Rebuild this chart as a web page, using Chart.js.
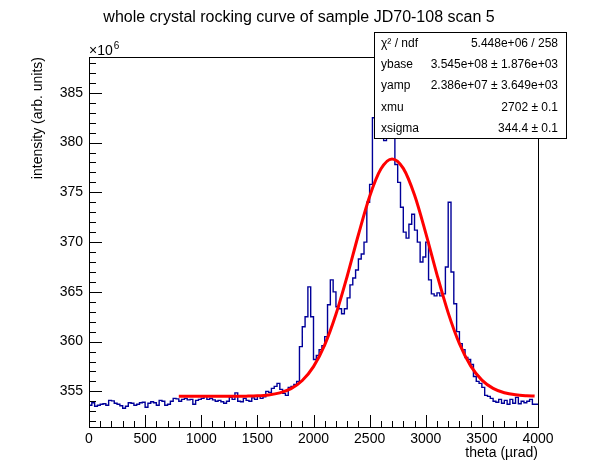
<!DOCTYPE html>
<html><head><meta charset="utf-8">
<script src="https://cdn.jsdelivr.net/npm/chart.js@4.4.1/dist/chart.umd.min.js"></script>
<style>html,body{margin:0;padding:0;background:#fff;}#wrap{width:598px;height:474px;}</style>
</head><body><div id="wrap"><canvas id="c" width="598" height="474"></canvas></div>
<script>
const titleText = 'whole crystal rocking curve of sample JD70-108 scan 5';
const xTitle = 'theta (\u00b5rad)';
const yTitle = 'intensity (arb. units)';
const yExpBase = '\u00d710';
const yExpPow = '6';

const binStart = 0;
const binWidth = 25;
const counts = [
  353.3, 353.6, 353.85, 353.5, 353.6, 353.7, 353.75, 353.6, 354.1, 354.05,
  353.8, 353.7, 353.55, 353.3, 353.5, 353.85, 353.8, 353.6, 353.7, 353.85,
  353.9, 353.4, 353.8, 353.95, 353.85, 353.6, 354.1, 354.0, 353.6, 353.7,
  354.0, 354.3, 354.25, 354.0, 354.2, 354.3, 354.15, 354.2, 353.7, 354.1,
  354.2, 354.3, 354.5, 354.2, 354.3, 354.15, 354.0, 354.1, 353.95, 353.8,
  354.0, 354.4, 354.2, 354.85, 354.0, 353.95, 354.3, 354.1, 354.0, 354.35,
  354.2, 354.5, 354.3, 354.45, 355.0, 354.9, 355.3, 355.5, 355.8, 355.2,
  354.8, 354.6, 355.4, 355.5, 355.7, 356.0, 359.5, 361.5, 362.5, 365.5,
  362.5, 358.2, 358.6, 359.2, 359.6, 360.5, 363.7, 366.2, 365.0, 363.5,
  363.3, 362.8, 363.3, 364.4, 365.7, 366.4, 367.2, 368.3, 368.8, 370.0,
  374.0, 375.8, 382.5, 383.5, 384.0, 383.0, 380.2, 382.0, 383.0, 381.5,
  377.8, 376.0, 373.5, 371.0, 370.4, 371.8, 372.8, 371.2, 370.0, 368.0,
  368.5, 370.0, 366.2, 364.8, 364.6, 364.9, 364.6, 364.8, 367.5, 374.0,
  367.0, 363.8, 361.0, 359.8, 359.2, 358.4, 358.2, 357.7, 356.5, 356.0,
  355.8, 355.4, 354.6, 354.5, 354.3, 354.0, 353.9, 354.2, 353.8, 354.1,
  353.7, 354.2, 353.8, 354.4, 353.75, 354.0, 353.85, 354.0, 354.2, 353.7
];

const fitX = [800, 1000, 1200, 1400, 1500, 1600, 1700, 1800, 1900, 2000, 2100, 2200, 2300, 2400, 2500,
  2600, 2700, 2800, 2900, 3000, 3100, 3200, 3300, 3400, 3500, 3600, 3700, 3800, 3900, 3970];
const fitY = [354.50, 354.50, 354.50, 354.52, 354.55, 354.64, 354.85, 355.27, 356.09, 357.49, 359.68, 362.75, 366.57, 370.74, 374.59,
  377.34, 378.36, 377.41, 374.73, 370.91, 366.74, 362.89, 359.79, 357.56, 356.13, 355.30, 354.86, 354.65, 354.56, 354.53];

const xTickLabels = [0, 500, 1000, 1500, 2000, 2500, 3000, 3500, 4000];
const yTickLabels = [355, 360, 365, 370, 375, 380, 385];
const xMinorStep = 100;
const yMinorStep = 1;
const xRange = [0, 4000];
const yRange = [351.42, 388.6];

const statsLabels = ['\u03c7\u00b2 / ndf', 'ybase', 'yamp', 'xmu', 'xsigma'];
const statsValues = ['5.448e+06 / 258', '3.545e+08 \u00b1 1.876e+03', '2.386e+07 \u00b1 3.649e+03', '2702 \u00b1 0.1', '344.4 \u00b1 0.1'];

const FONT = "'Liberation Sans', Arial, Helvetica, sans-serif";

const histPoints = counts.map((v, i) => ({x: binStart + i * binWidth, y: v}));
histPoints.push({x: binStart + counts.length * binWidth, y: counts[counts.length - 1]});
const fitPoints = fitX.map((x, i) => ({x: x, y: fitY[i]}));

const decor = {
  id: 'decor',
  afterDatasetsDraw(chart) {
    const ctx = chart.ctx, ca = chart.chartArea;
    const xs = chart.scales.x, ys = chart.scales.y;
    ctx.save();
    ctx.strokeStyle = '#000';
    ctx.lineWidth = 1;
    ctx.beginPath();
    for (let v = xRange[0]; v <= xRange[1] + 1e-6; v += xMinorStep) {
      const px = Math.round(xs.getPixelForValue(v)) + 0.5;
      const major = xTickLabels.indexOf(v) >= 0;
      const len = major ? 12 : 6;
      ctx.moveTo(px, ca.bottom);
      ctx.lineTo(px, ca.bottom - len);
    }
    for (let v = Math.ceil(yRange[0]); v <= yRange[1]; v += yMinorStep) {
      const py = Math.round(ys.getPixelForValue(v)) + 0.5;
      const major = yTickLabels.indexOf(v) >= 0;
      const len = major ? 13 : 7;
      ctx.moveTo(ca.left, py);
      ctx.lineTo(ca.left + len, py);
    }
    ctx.stroke();
    ctx.strokeRect(Math.round(ca.left) + 0.5, Math.round(ca.top) + 0.5, Math.round(ca.right - ca.left), Math.round(ca.bottom - ca.top));
    ctx.restore();
  },
  afterDraw(chart) {
    const ctx = chart.ctx, ca = chart.chartArea;
    ctx.save();
    ctx.fillStyle = '#000';
    ctx.textBaseline = 'alphabetic';
    ctx.textAlign = 'left';
    ctx.font = '14px ' + FONT;
    ctx.fillText(yExpBase, ca.left, ca.top - 2);
    const w = ctx.measureText(yExpBase).width;
    ctx.font = '10px ' + FONT;
    ctx.fillText(yExpPow, ca.left + w + 1, ca.top - 8);
    const bx = 374, by = 32, bw = 192, bh = 106;
    ctx.fillStyle = '#fff';
    ctx.fillRect(bx, by, bw, bh);
    ctx.strokeStyle = '#000';
    ctx.lineWidth = 1;
    ctx.strokeRect(bx + 0.5, by + 0.5, bw, bh);
    ctx.fillStyle = '#000';
    ctx.font = '12px ' + FONT;
    ctx.textBaseline = 'middle';
    const rh = bh / statsLabels.length;
    statsLabels.forEach((lab, i) => {
      const y = by + rh * (i + 0.5) + 1;
      ctx.textAlign = 'left';
      ctx.fillText(lab, bx + 7, y);
      ctx.textAlign = 'right';
      ctx.fillText(statsValues[i], bx + bw - 8, y);
    });
    ctx.restore();
  }
};

Chart.defaults.color = '#000';
Chart.defaults.font.family = FONT;

new Chart(document.getElementById('c'), {
  type: 'line',
  data: {
    datasets: [
      {
        label: 'fit', data: fitPoints, borderColor: '#ff0000', borderWidth: 3,
        pointRadius: 0, cubicInterpolationMode: 'monotone', fill: false, order: 1
      },
      {
        label: 'hist', data: histPoints, borderColor: '#000099', borderWidth: 1.4,
        pointRadius: 0, stepped: 'after', fill: false, order: 2
      }
    ]
  },
  options: {
    responsive: false,
    animation: false,
    layout: {padding: {left: 0, right: 0, top: 0, bottom: 0}},
    plugins: {
      legend: {display: false},
      tooltip: {enabled: false},
      title: {
        display: true, text: titleText, color: '#000',
        font: {size: 16, weight: 'normal', family: FONT, lineHeight: 1.2},
        padding: {top: 8, bottom: 29.8}
      }
    },
    scales: {
      x: {
        type: 'linear', min: xRange[0], max: xRange[1],
        grid: {display: false, drawTicks: false},
        border: {display: false},
        afterBuildTicks: (s) => { s.ticks = xTickLabels.map(v => ({value: v})); },
        afterFit: (s) => { s.height = 47; },
        ticks: {font: {size: 14}, padding: 4, maxRotation: 0, autoSkip: false, color: '#000',
          callback: (v) => String(v)},
        title: {display: true, text: xTitle, align: 'end', font: {size: 14}, color: '#000',
          padding: {top: 0, bottom: 12}}
      },
      y: {
        type: 'linear', min: yRange[0], max: yRange[1],
        grid: {display: false, drawTicks: false},
        border: {display: false},
        afterBuildTicks: (s) => { s.ticks = yTickLabels.map(v => ({value: v})); },
        afterFit: (s) => { s.width = 89; },
        ticks: {font: {size: 14}, padding: 6, autoSkip: false, color: '#000',
          callback: (v) => String(v)},
        title: {display: true, text: yTitle, align: 'end', font: {size: 14}, color: '#000',
          padding: {top: 30, bottom: 0}}
      },
      yRight: {
        type: 'linear', position: 'right', min: yRange[0], max: yRange[1],
        grid: {display: false, drawTicks: false},
        border: {display: false},
        ticks: {display: false},
        title: {display: false},
        afterFit: (s) => { s.width = 60; }
      }
    }
  },
  plugins: [decor]
});
</script>
</body></html>
